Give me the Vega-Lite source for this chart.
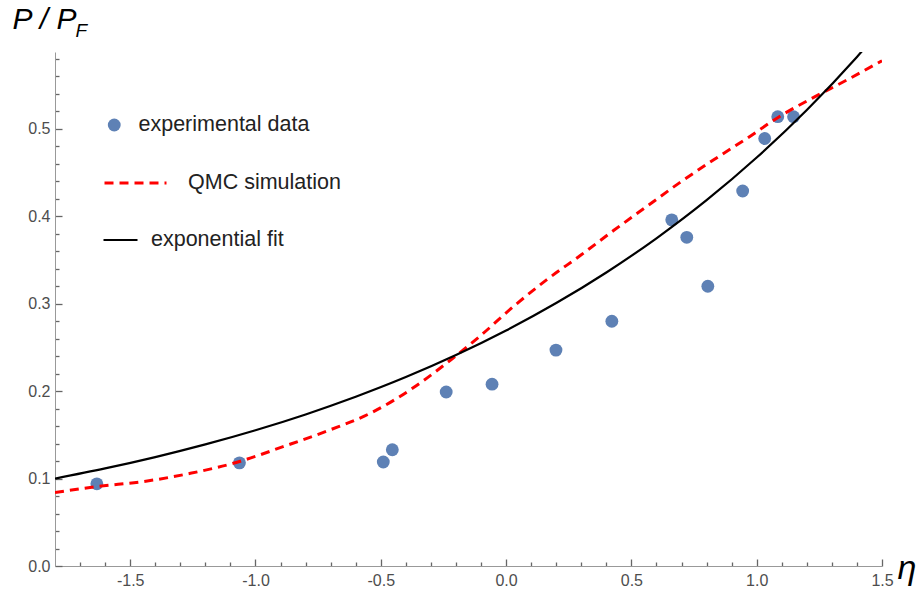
{
  "$schema": "https://vega.github.io/schema/vega-lite/v6.json",
  "width": 827,
  "height": 514,
  "autosize": {"type": "none"},
  "padding": {"left": 55, "top": 52, "right": 37, "bottom": 28},
  "background": "white",
  "config": {
    "view": {"stroke": null, "fill": null},
    "font": "Liberation Sans",
    "axis": {
      "domainColor": "#999999",
      "tickColor": "#666666",
      "tickWidth": 1.3,
      "labelColor": "#4d4d4d",
      "labelFont": "Liberation Sans",
      "labelFontSize": 16,
      "grid": false,
      "titleFont": "Liberation Sans",
      "titleFontStyle": "italic",
      "titleFontWeight": "normal",
      "titleColor": "#000000",
      "labelOverlap": false,
      "labelFlush": false,
      "zindex": 1
    },
    "legend": {
      "orient": "none",
      "title": null,
      "padding": 0,
      "labelFontSize": 21.5,
      "labelColor": "#222222",
      "labelFont": "Liberation Sans",
      "labelLimit": 400,
      "clipHeight": 20
    }
  },
  "datasets": {
    "experimental": [
      {"eta": -1.633, "p": 0.094},
      {"eta": -1.064, "p": 0.118},
      {"eta": -0.49, "p": 0.119},
      {"eta": -0.454, "p": 0.133},
      {"eta": -0.239, "p": 0.199},
      {"eta": -0.056, "p": 0.208},
      {"eta": 0.199, "p": 0.247},
      {"eta": 0.422, "p": 0.28},
      {"eta": 0.661, "p": 0.396},
      {"eta": 0.721, "p": 0.376},
      {"eta": 0.805, "p": 0.32},
      {"eta": 0.944, "p": 0.429},
      {"eta": 1.032, "p": 0.489},
      {"eta": 1.084, "p": 0.514},
      {"eta": 1.147, "p": 0.514}
    ],
    "qmc": [
      {"eta": -1.8, "p": 0.084},
      {"eta": -1.63, "p": 0.091},
      {"eta": -1.45, "p": 0.0965},
      {"eta": -1.26, "p": 0.106},
      {"eta": -1.07, "p": 0.119},
      {"eta": -0.89, "p": 0.1365},
      {"eta": -0.7, "p": 0.156},
      {"eta": -0.54, "p": 0.175},
      {"eta": -0.44, "p": 0.191},
      {"eta": -0.36, "p": 0.206},
      {"eta": -0.22, "p": 0.236},
      {"eta": -0.1, "p": 0.264},
      {"eta": 0.03, "p": 0.297},
      {"eta": 0.16, "p": 0.327},
      {"eta": 0.3, "p": 0.356},
      {"eta": 0.43, "p": 0.384},
      {"eta": 0.56, "p": 0.411},
      {"eta": 0.69, "p": 0.438},
      {"eta": 0.83, "p": 0.465},
      {"eta": 0.96, "p": 0.489},
      {"eta": 1.09, "p": 0.514},
      {"eta": 1.22, "p": 0.535},
      {"eta": 1.36, "p": 0.556},
      {"eta": 1.5, "p": 0.578}
    ],
    "fit": [
      {"eta": -1.8, "p": 0.1},
      {"eta": -1.6, "p": 0.1116},
      {"eta": -1.4, "p": 0.1246},
      {"eta": -1.2, "p": 0.1391},
      {"eta": -1.0, "p": 0.1553},
      {"eta": -0.8, "p": 0.1734},
      {"eta": -0.6, "p": 0.1936},
      {"eta": -0.4, "p": 0.2161},
      {"eta": -0.2, "p": 0.2413},
      {"eta": 0.0, "p": 0.2694},
      {"eta": 0.2, "p": 0.3008},
      {"eta": 0.4, "p": 0.3358},
      {"eta": 0.6, "p": 0.3749},
      {"eta": 0.8, "p": 0.4185},
      {"eta": 1.0, "p": 0.4673},
      {"eta": 1.2, "p": 0.5217},
      {"eta": 1.4, "p": 0.5824},
      {"eta": 1.5, "p": 0.6154}
    ]
  },
  "resolve": {"scale": {"x": "independent", "y": "independent"}},
  "layer": [
    {
      "data": {"name": "experimental"},
      "mark": {"type": "point", "filled": true, "size": 165, "opacity": 1, "color": "#5E81B5"},
      "encoding": {
        "x": {
          "field": "eta",
          "type": "quantitative",
          "scale": {"domain": [-1.8, 1.5], "nice": false, "zero": false},
          "axis": {
            "orient": "bottom",
            "values": [-1.5, -1.0, -0.5, 0, 0.5, 1.0, 1.5],
            "labelExpr": "replace(format(datum.value, '.1f'), '\u2212', '-')",
            "offset": -7,
            "ticks": true,
            "tickSize": 7,
            "domain": false,
            "labelPadding": 6,
            "title": "η",
            "titleX": 842,
            "titleY": 19,
            "titleAlign": "left",
            "titleBaseline": "alphabetic",
            "titleFontSize": 34,
            "titleAngle": 0
          }
        },
        "y": {
          "field": "p",
          "type": "quantitative",
          "scale": {"domain": [0, 0.588], "nice": false},
          "axis": {
            "orient": "left",
            "values": [0, 0.1, 0.2, 0.3, 0.4, 0.5],
            "format": ".1f",
            "offset": -7,
            "ticks": true,
            "tickSize": 7,
            "domain": false,
            "labelPadding": 5,
            "title": "P / P",
            "titleAngle": 0,
            "titleX": -50,
            "titleY": -24,
            "titleAlign": "left",
            "titleBaseline": "alphabetic",
            "titleFontSize": 30
          }
        },
        "shape": {
          "datum": "experimental data",
          "type": "nominal",
          "scale": {"range": ["circle"]},
          "legend": {
            "legendX": 48.5,
            "legendY": 63,
            "symbolType": "circle",
            "symbolSize": 165,
            "symbolFillColor": "#5E81B5",
            "symbolStrokeWidth": 0,
            "labelOffset": 13.5
          }
        }
      }
    },
    {
      "data": {"name": "qmc"},
      "mark": {"type": "line", "strokeWidth": 3, "color": "#FF0000", "interpolate": "monotone", "clip": true},
      "encoding": {
        "x": {
          "field": "eta",
          "type": "quantitative",
          "scale": {"domain": [-1.8, 1.5], "nice": false, "zero": false},
          "axis": {
            "orient": "bottom",
            "values": [-1.7, -1.6, -1.4, -1.3, -1.2, -1.1, -0.9, -0.8, -0.7, -0.6, -0.4, -0.3, -0.2, -0.1, 0.1, 0.2, 0.3, 0.4, 0.6, 0.7, 0.8, 0.9, 1.1, 1.2, 1.3, 1.4],
            "labels": false,
            "domain": false,
            "offset": -4,
            "ticks": true,
            "tickSize": 4,
            "title": null
          }
        },
        "y": {
          "field": "p",
          "type": "quantitative",
          "scale": {"domain": [0, 0.588], "nice": false},
          "axis": {
            "orient": "left",
            "values": [0.02, 0.04, 0.06, 0.08, 0.12, 0.14, 0.16, 0.18, 0.22, 0.24, 0.26, 0.28, 0.32, 0.34, 0.36, 0.38, 0.42, 0.44, 0.46, 0.48, 0.52, 0.54, 0.56, 0.58],
            "title": "F",
            "domain": false,
            "labels": false,
            "offset": -4,
            "ticks": true,
            "tickSize": 4,
            "titleAngle": 0,
            "titleX": 16,
            "titleY": -16,
            "titleAlign": "left",
            "titleBaseline": "alphabetic",
            "titleFontSize": 19
          }
        },
        "strokeDash": {
          "datum": "QMC simulation",
          "type": "nominal",
          "scale": {"range": [[9, 6]]},
          "legend": {
            "legendX": 48,
            "legendY": 121,
            "symbolType": "stroke",
            "symbolSize": 3844,
            "symbolStrokeColor": "#FF0000",
            "symbolStrokeWidth": 3,
            "labelOffset": 20
          }
        }
      }
    },
    {
      "data": {"name": "fit"},
      "mark": {"type": "line", "strokeWidth": 2.2, "color": "#000000", "interpolate": "monotone", "clip": true},
      "encoding": {
        "x": {
          "field": "eta",
          "type": "quantitative",
          "scale": {"domain": [-1.8, 1.5], "nice": false, "zero": false},
          "axis": {"orient": "bottom", "ticks": false, "labels": false, "domain": true, "title": null}
        },
        "y": {
          "field": "p",
          "type": "quantitative",
          "scale": {"domain": [0, 0.588], "nice": false},
          "axis": {"orient": "left", "ticks": false, "labels": false, "domain": true, "title": null}
        },
        "opacity": {
          "datum": "exponential fit",
          "type": "nominal",
          "scale": {"range": [1]},
          "legend": {
            "legendX": 47,
            "legendY": 178,
            "symbolType": "stroke",
            "symbolSize": 1156,
            "symbolStrokeColor": "#000000",
            "symbolStrokeWidth": 2.2,
            "labelOffset": 12
          }
        }
      }
    }
  ]
}
